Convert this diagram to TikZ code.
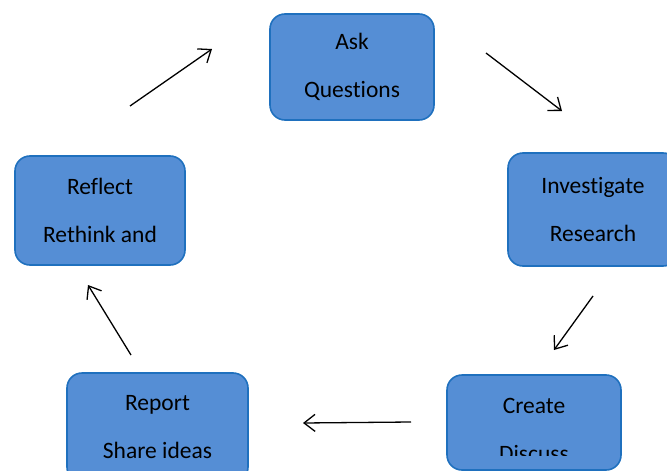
\documentclass[tikz,border=0pt]{standalone}
\usepackage{fontspec}
\setmainfont{Carlito}[Ligatures=NoCommon]
\usetikzlibrary{arrows.meta, positioning}
\definecolor{colBox}{RGB}{85, 142, 213}
\definecolor{colEdge}{RGB}{31, 112, 190}

\begin{document}
\begin{tikzpicture}[x=1pt, y=-1pt,
    every node/.style={font=\fontsize{23.5}{48}\selectfont},
    stage/.style={draw=colEdge, fill=colBox, line width=1.6pt, rounded corners=15pt, align=center, inner sep=0pt},
    flow/.style={-{Straight Barb[length=11pt, width=17pt]}, line width=1.3pt}]
    \useasboundingbox (0, 0) rectangle (667, 471);
    \clip (0, 0) rectangle (667, 471);

    % --- Stages ---
    \node[stage, minimum width=164pt, minimum height=106pt] (ask) at (352, 67) {Ask\\Questions};
    \node[stage, minimum width=170pt, minimum height=113pt] (investigate) at (593, 209.5) {Investigate\\Research};
    \node[stage, minimum width=174pt, minimum height=95pt] (create) at (534, 422.5) {};
    \node[stage, minimum width=181pt, minimum height=109pt] (report) at (157.5, 427.5) {Report\\Share ideas};
    \node[stage, minimum width=170pt, minimum height=109pt] (reflect) at (100, 210.5) {Reflect\\Rethink and};

    % Text of Create (cut off at the bottom)
    \begin{scope}
        \clip (447, 370) rectangle (621, 455);
        \node[align=center] (createText) at (534, 430) {Create\\Discuss};
    \end{scope}

    % --- Arrows (free ends) ---
    \coordinate (reflectOut) at (130, 106);
    \coordinate (askIn) at (212, 49);
    \coordinate (askOut) at (486, 53);
    \coordinate (investigateIn) at (562, 111);
    \coordinate (investigateOut) at (593, 296);
    \coordinate (createIn) at (554, 350);
    \coordinate (createOut) at (411, 422);
    \coordinate (reportIn) at (303, 423);
    \coordinate (reportOut) at (131, 355);
    \coordinate (reflectIn) at (88, 285);

    \draw[flow] (reflectOut) -- (askIn);
    \draw[flow] (askOut) -- (investigateIn);
    \draw[flow] (investigateOut) -- (createIn);
    \draw[flow] (createOut) -- (reportIn);
    \draw[flow] (reportOut) -- (reflectIn);

\end{tikzpicture}
\end{document}
